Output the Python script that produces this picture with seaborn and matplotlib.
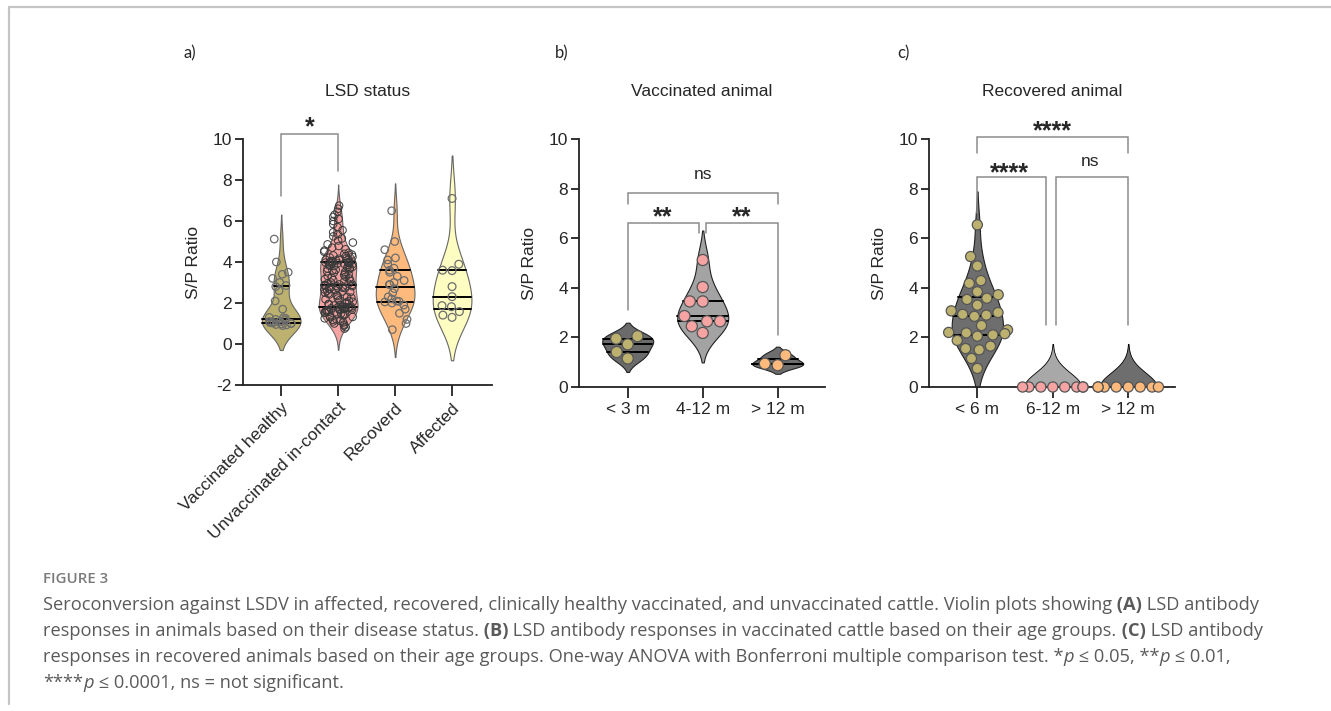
import matplotlib
matplotlib.use("Agg")
import matplotlib.pyplot as plt
import numpy as np
import pandas as pd
import seaborn as sns
from matplotlib.lines import Line2D

# ---- panel a: LSD status ----
status_order = ["Vaccinated healthy", "Unvaccinated in-contact", "Recoverd", "Affected"]
vacc_healthy = [0.9, 0.93, 0.95, 0.98, 1.0, 1.0, 1.03, 1.05, 1.05, 1.08, 1.1, 1.1, 1.15, 1.2,
                1.25, 1.28, 1.3, 1.7, 2.1, 2.6, 2.8, 2.85, 3.0, 3.2, 3.4, 3.5, 4.0, 5.12]
unvacc_contact = [
    0.75, 0.82, 0.9, 0.95, 1.0, 1.05, 1.1, 1.12, 1.18, 1.2, 1.25, 1.3, 1.32, 1.35, 1.4, 1.42,
    1.45, 1.48, 1.5, 1.52, 1.55, 1.57, 1.6, 1.62, 1.63, 1.65, 1.66, 1.68, 1.7, 1.71, 1.72, 1.74,
    1.75, 1.76, 1.77, 1.78, 1.79, 1.79,
    1.81, 1.83, 1.85, 1.88, 1.9, 1.93, 1.96, 2.0, 2.03, 2.06, 2.1, 2.14, 2.18, 2.22, 2.26, 2.3,
    2.34, 2.38, 2.42, 2.46, 2.5, 2.53, 2.56, 2.6, 2.63, 2.66, 2.69, 2.72, 2.74, 2.76, 2.78, 2.8,
    2.82, 2.84, 2.85, 2.86, 2.88, 2.89,
    2.91, 2.94, 2.97, 3.0, 3.04, 3.08, 3.12, 3.16, 3.2, 3.24, 3.28, 3.32, 3.36, 3.4, 3.44, 3.48,
    3.52, 3.55, 3.58, 3.62, 3.65, 3.68, 3.71, 3.74, 3.77, 3.8, 3.83, 3.85, 3.87, 3.89, 3.91, 3.93,
    3.94, 3.95, 3.96, 3.97, 3.98, 3.99,
    4.01, 4.03, 4.05, 4.07, 4.09, 4.11, 4.13, 4.16, 4.19, 4.22, 4.25, 4.28, 4.32, 4.36, 4.4, 4.45,
    4.5, 4.56, 4.62, 4.7, 4.78, 4.86, 4.95, 5.05, 5.15, 5.25, 5.35, 5.45, 5.55, 5.7, 5.85, 6.0,
    6.1, 6.2, 6.3, 6.45, 6.6, 6.75,
]
recovered = [0.7, 1.0, 1.2, 1.5, 1.7, 1.9, 2.0, 2.05, 2.08, 2.1, 2.2, 2.3, 2.5, 2.7, 2.9, 2.9,
             3.0, 3.1, 3.3, 3.5, 3.6, 3.7, 3.9, 4.1, 4.2, 4.6, 5.0, 6.5]
affected = [1.3, 1.41, 1.58, 1.82, 1.87, 2.31, 2.8, 3.58, 3.6, 3.89, 7.1]
status_colors = ["#BDB170", "#F5A3A3", "#FDBA7C", "#FDFDC2"]

# ---- panel b: vaccinated animals by age ----
vacc_order = ["< 3 m", "4-12 m", "> 12 m"]
vacc_lt3 = [1.15, 1.41, 1.72, 1.95, 2.05]
vacc_4_12 = [5.12, 4.03, 3.45, 3.45, 2.86, 2.65, 2.65, 2.45, 2.18]
vacc_gt12 = [1.28, 0.88, 0.94]
vacc_violin_colors = ["#6B6B6B", "#A3A3A3", "#6E6E6E"]
age_point_colors = ["#BDB170", "#F5A3A3", "#FDBA7C"]

# ---- panel c: recovered animals by age ----
rec_order = ["< 6 m", "6-12 m", "> 12 m"]
rec_lt6 = [6.54, 5.26, 4.88, 4.29, 4.18, 3.84, 3.72, 3.58, 3.53, 3.3, 3.07, 3.0, 2.93, 2.9,
           2.85, 2.48, 2.3, 2.2, 2.18, 2.15, 2.1, 2.05, 1.88, 1.65, 1.55, 1.5, 1.15, 0.75]
rec_6_12 = [0, 0, 0, 0, 0, 0, 0, 0]
rec_gt12 = [0, 0, 0, 0, 0, 0, 0, 0]
rec_violin_colors = ["#6E6E6E", "#A8A8A8", "#6E6E6E"]


def long_df(order, groups):
    return pd.DataFrame({
        "group": np.concatenate([[g] * len(v) for g, v in zip(order, groups)]),
        "value": np.concatenate([np.asarray(v, float) for v in groups]),
    })


df_a = long_df(status_order, [vacc_healthy, unvacc_contact, recovered, affected])
df_b = long_df(vacc_order, [vacc_lt3, vacc_4_12, vacc_gt12])
df_c = long_df(rec_order, [rec_lt6, rec_6_12, rec_gt12])

sns.set_style("ticks")
plt.rcParams["font.family"] = ["Liberation Sans", "DejaVu Sans"]
plt.rcParams["axes.unicode_minus"] = False

fig = plt.figure(figsize=(13.31, 7.11), dpi=100)
ax_a = fig.add_axes([0.1826, 0.4585, 0.187, 0.346])
ax_b = fig.add_axes([0.435, 0.4557, 0.1848, 0.3488])
ax_c = fig.add_axes([0.698, 0.4557, 0.1848, 0.3488])

TICK_FS = 12.5
STAR_FS = 18
BRACKET = "#8c8c8c"


def violins(ax, data, order, colors, edge, **kw):
    n0 = len(ax.lines)
    sns.violinplot(data=data, x="group", y="value", order=order, hue="group",
                   hue_order=order, palette=colors, legend=False, inner="quart",
                   density_norm="width", width=0.68, linewidth=0.8, linecolor=edge,
                   saturation=1, ax=ax, **kw)
    # solid black quartile lines like the original
    for ln in ax.lines[n0:]:
        ln.set_linestyle("-")
        ln.set_color("black")
        ln.set_linewidth(1.4)


def zero_violin(ax, pos, values, color, half_width=0.38, bw=0.58):
    vals = np.asarray(values, float)
    grid = np.linspace(vals.min(), vals.max() + 3 * bw, 120)
    dens = np.exp(-0.5 * ((grid[:, None] - vals[None, :]) / bw) ** 2).mean(axis=1)
    w = dens / dens.max() * half_width
    ax.fill_betweenx(grid, pos - w, pos + w, facecolor=color, edgecolor="black",
                     linewidth=0.6, zorder=1)


def bracket(ax, x0, x1, y, y0, y1):
    ax.plot([x0, x0, x1, x1], [y0, y, y, y1], color=BRACKET, lw=1.1, clip_on=False,
            solid_joinstyle="miter")


def stars(ax, x, y, s):
    ax.text(x, y, s, ha="center", va="baseline", fontsize=STAR_FS, fontweight="bold")


def style_axis(ax, title, xlim, ylim, yticks):
    ax.set_xlim(*xlim)
    ax.set_ylim(*ylim)
    ax.set_yticks(yticks)
    ax.set_xlabel("")
    ax.set_ylabel("S/P Ratio", fontsize=TICK_FS, labelpad=8)
    ax.set_title(title, fontsize=TICK_FS, pad=31)
    for side in ["top", "right"]:
        ax.spines[side].set_visible(False)
    for side in ["left", "bottom"]:
        ax.spines[side].set_linewidth(1.3)
        ax.spines[side].set_color("#222222")
    ax.tick_params(axis="y", length=6, width=1.3, labelsize=TICK_FS, color="#222222", pad=2)
    ax.tick_params(axis="x", length=8, width=1.3, labelsize=TICK_FS, color="#222222", pad=3)


# ---- panel a ----
violins(ax_a, df_a, status_order, status_colors, "#666666")
n0 = len(ax_a.collections)
np.random.seed(3)
for grp in ["Vaccinated healthy", "Recoverd"]:
    sns.stripplot(data=df_a[df_a["group"] == grp], x="group", y="value", order=status_order,
                  jitter=0.22, size=5.4, linewidth=0.9, edgecolor="#6d6d6d", ax=ax_a)
sns.swarmplot(data=df_a[df_a["group"] == "Affected"], x="group", y="value",
              order=status_order, size=5.6, linewidth=0.9, edgecolor="#6d6d6d",
              warn_thresh=1, ax=ax_a)
big = df_a[df_a["group"] == "Unvaccinated in-contact"]
sns.stripplot(data=big[big["value"] < 5], x="group", y="value", order=status_order,
              jitter=0.27, size=5.4, linewidth=0.7, edgecolor="#3a3a3a", ax=ax_a)
sns.stripplot(data=big[big["value"] >= 5], x="group", y="value", order=status_order,
              jitter=0.1, size=5.4, linewidth=0.7, edgecolor="#3a3a3a", ax=ax_a)
for coll in ax_a.collections[n0:]:
    coll.set_facecolor("none")
style_axis(ax_a, "LSD status", (-0.67, 3.7), (-2, 10), np.arange(-2, 11, 2))
ax_a.set_xticks(range(len(status_order)))
ax_a.set_xticklabels(status_order, rotation=45, ha="right", rotation_mode="anchor")
bracket(ax_a, 0, 1, 10.26, 7.2, 8.45)
stars(ax_a, 0.51, 10.22, "*")

# ---- panel b ----
violins(ax_b, df_b, vacc_order, vacc_violin_colors, "#222222")
sns.swarmplot(data=df_b, x="group", y="value", order=vacc_order, hue="group",
              hue_order=vacc_order, palette=age_point_colors, legend=False, size=8,
              linewidth=0.9, edgecolor="#555555", warn_thresh=1, ax=ax_b)
style_axis(ax_b, "Vaccinated animal", (-0.65, 2.63), (0, 10), np.arange(0, 11, 2))
bracket(ax_b, 0, 2, 7.83, 7.38, 7.38)
bracket(ax_b, 0, 0.95, 6.62, 3.1, 6.2)
bracket(ax_b, 1.05, 2, 6.62, 6.2, 2.1)
ax_b.text(1, 8.55, "ns", ha="center", va="center", fontsize=TICK_FS)
stars(ax_b, 0.46, 6.55, "**")
stars(ax_b, 1.52, 6.55, "**")

# ---- panel c ----
violins(ax_c, df_c[df_c["group"] == "< 6 m"], rec_order, rec_violin_colors, "#222222")
zero_violin(ax_c, 1, rec_6_12, rec_violin_colors[1])
zero_violin(ax_c, 2, rec_gt12, rec_violin_colors[2])
sns.swarmplot(data=df_c, x="group", y="value", order=rec_order, hue="group",
              hue_order=rec_order, palette=age_point_colors, legend=False, size=7.3,
              linewidth=0.9, edgecolor="#555555", warn_thresh=1, clip_on=False, ax=ax_c)
style_axis(ax_c, "Recovered animal", (-0.64, 2.62), (0, 10), np.arange(0, 11, 2))
bracket(ax_c, 0, 2, 10.08, 9.45, 9.45)
bracket(ax_c, 0, 0.905, 8.45, 7.0, 2.5)
bracket(ax_c, 1.04, 2, 8.45, 2.5, 2.5)
stars(ax_c, 1, 10.02, "****")
stars(ax_c, 0.43, 8.33, "****")
ax_c.text(1.5, 9.08, "ns", ha="center", va="center", fontsize=TICK_FS)

for ax in (ax_a, ax_b, ax_c):
    ax.set_axisbelow(False)

# panel letters
W, H = 1331, 711
for lab, px in [("a)", 183), ("b)", 555), ("c)", 897)]:
    fig.text(px / W, 1 - 53 / H, lab, fontsize=12, family=["Lato", "DejaVu Sans"],
             va="center", ha="left")

# frame lines of the figure page
fig.add_artist(Line2D([9 / W, 9 / W], [1 - 7 / H, 1 - 704 / H], transform=fig.transFigure,
                      color="#c4c4c4", lw=1.6))
fig.add_artist(Line2D([9 / W, 1], [1 - 7 / H, 1 - 7 / H], transform=fig.transFigure,
                      color="#c4c4c4", lw=1.6))

# ---- caption ----
cap = fig.add_axes([0, 0, 1, 1], zorder=-1)
cap.axis("off")
CAP_FAM = ["Open Sans", "DejaVu Sans"]
CAP_FS = 13.15
CAP_COL = "#5a5a5a"
CAP_X = 43 / W
cap.text(CAP_X, 1 - 579 / H, "FIGURE 3", fontsize=10.8, color="#7a7a7a", family=CAP_FAM,
         fontweight="semibold", va="center", ha="left", transform=cap.transAxes)

caption_lines = [
    [("Seroconversion against LSDV in affected, recovered, clinically healthy vaccinated, "
      "and unvaccinated cattle. Violin plots showing", "normal", "normal"),
     (" (A)", "bold", "normal"), (" LSD antibody", "normal", "normal")],
    [("responses in animals based on their disease status.", "normal", "normal"),
     (" (B)", "bold", "normal"),
     (" LSD antibody responses in vaccinated cattle based on their age groups.", "normal", "normal"),
     (" (C)", "bold", "normal"), (" LSD antibody", "normal", "normal")],
    [("responses in recovered animals based on their age groups. One-way ANOVA with "
      "Bonferroni multiple comparison test. *", "normal", "normal"),
     ("p", "normal", "italic"), (" \u2264 0.05, **", "normal", "normal"),
     ("p", "normal", "italic"), (" \u2264 0.01,", "normal", "normal")],
    [("****", "normal", "normal"), ("p", "normal", "italic"),
     (" \u2264 0.0001, ns = not significant.", "normal", "normal")],
]
for i, parts in enumerate(caption_lines):
    y_center = 605 + 26 * i
    prev = None
    for text, weight, style in parts:
        kw = dict(fontsize=CAP_FS, color=CAP_COL, family=CAP_FAM, fontweight=weight,
                  fontstyle=style, ha="left")
        if prev is None:
            prev = cap.text(CAP_X, 1 - y_center / H, text, transform=cap.transAxes,
                            va="center", **kw)
        else:
            prev = cap.annotate(text, xy=(1, 0), xycoords=prev, va="bottom", **kw)

fig.savefig("out.png", dpi=100)
